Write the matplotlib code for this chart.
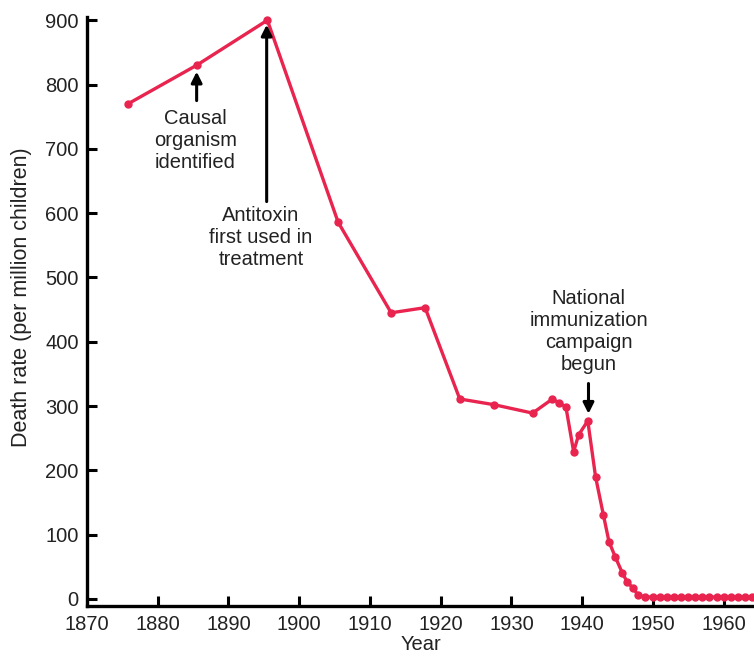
import numpy as np
import matplotlib
matplotlib.use('Agg')
import matplotlib.pyplot as plt

plt.rcParams['font.family'] = ['Liberation Sans', 'DejaVu Sans']

# death rate per million children
years = [1875.8, 1885.5, 1895.5, 1905.5, 1913.0, 1917.8, 1922.7, 1927.6, 1933.0,
         1935.8, 1936.7, 1937.7, 1938.8, 1939.5, 1940.8, 1941.9, 1943.0, 1943.8,
         1944.7, 1945.7, 1946.4, 1947.2, 1947.9, 1948.9,
         1950, 1951, 1952, 1953, 1954, 1955, 1956, 1957, 1958, 1959, 1960,
         1961, 1962, 1963, 1964]
rate = [770, 830, 900, 586, 445, 453, 311, 302, 289,
        311, 305, 299, 229, 255, 277, 190, 131, 89,
        65, 40, 26, 17, 6, 3,
        3, 3, 3, 3, 3, 3, 3, 3, 3, 3, 3,
        3, 3, 3, 3]

xticks = list(range(1870, 1961, 10))
yticks = list(range(0, 901, 100))

red = '#e8244f'
ink = '#222222'

fig = plt.figure(figsize=(7.54, 6.57), dpi=100)
ax = fig.add_axes([0.1154, 0.0776, 0.8846, 0.8965])

ax.plot(years, rate, color=red, lw=2.4, marker='o', ms=5, clip_on=False, zorder=3)

ax.set_xlim(1870.3, 1964.3)
ax.set_ylim(-11, 905)
ax.set_xticks(xticks)
ax.set_yticks(yticks)
ax.spines['top'].set_visible(False)
ax.spines['right'].set_visible(False)
ax.spines['left'].set_linewidth(2.4)
ax.spines['bottom'].set_linewidth(2.4)
ax.tick_params(direction='in', length=7, width=2.2, labelsize=14.5, color='black',
               labelcolor=ink)
ax.tick_params(axis='y', pad=6)
ax.tick_params(axis='x', pad=6.5)
ax.set_xlabel('Year', fontsize=14.5, labelpad=1, color=ink)
ax.set_ylabel('Death rate (per million children)', fontsize=15.5, color=ink)
ax.yaxis.set_label_coords(-0.083, 0.525)

arrow = dict(arrowstyle='-|>', color='black', lw=2.2, mutation_scale=16, shrinkA=0, shrinkB=0)
tfont = dict(ha='center', va='top', fontsize=14.5, linespacing=1.2, color=ink)

ax.annotate('', xy=(1885.5, 820), xytext=(1885.5, 775), arrowprops=arrow)
ax.text(1885.3, 762, 'Causal\norganism\nidentified', **tfont)

ax.annotate('', xy=(1895.4, 893), xytext=(1895.4, 618), arrowprops=arrow)
ax.text(1894.6, 611, 'Antitoxin\nfirst used in\ntreatment', **tfont)

ax.annotate('', xy=(1940.9, 288), xytext=(1940.9, 335), arrowprops=arrow)
ax.text(1940.9, 482, 'National\nimmunization\ncampaign\nbegun', **tfont)

fig.savefig('out.png', dpi=100)
